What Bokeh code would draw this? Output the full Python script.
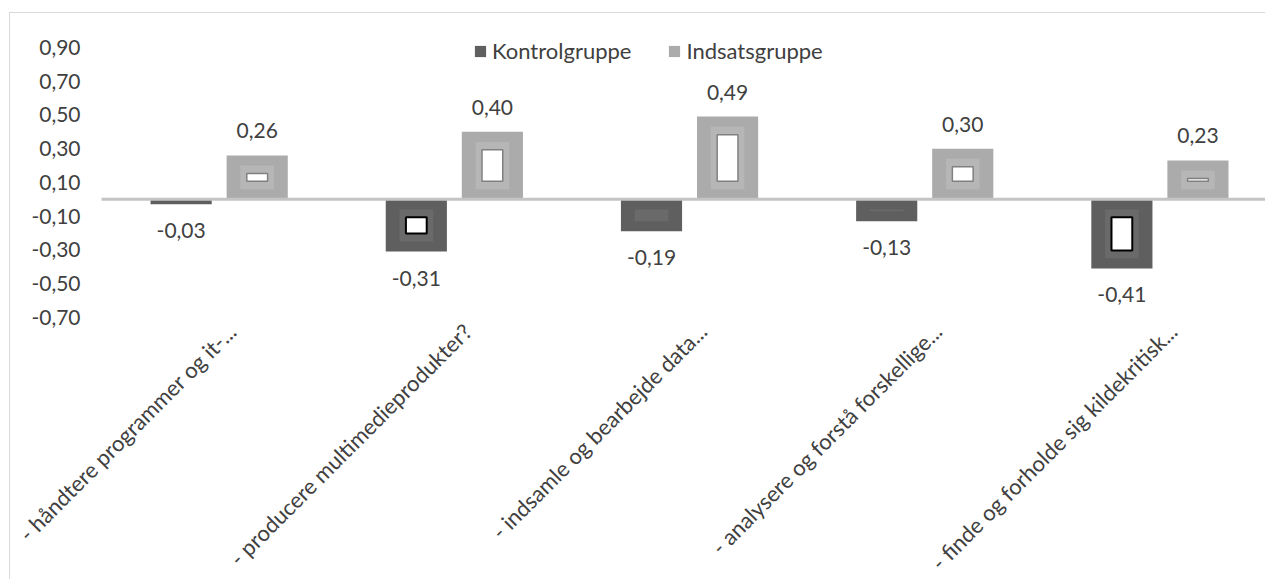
import math
from bokeh.plotting import figure
from bokeh.models import (ColumnDataSource, Range1d, Legend, LegendItem, LabelSet)
from bokeh.core.properties import value
from bokeh.embed import file_html
from bokeh.resources import INLINE

categories = [
    "- håndtere programmer og it-...",
    "- producere multimedieprodukter?",
    "- indsamle og bearbejde data...",
    "- analysere og forstå forskellige...",
    "- finde og forholde sig kildekritisk...",
]
kontrol = [-0.03, -0.31, -0.19, -0.13, -0.41]
indsats = [0.26, 0.40, 0.49, 0.30, 0.23]
y_ticks = [-0.7, -0.5, -0.3, -0.1, 0.1, 0.3, 0.5, 0.7, 0.9]
series_names = ["Kontrolgruppe", "Indsatsgruppe"]

FONT = "Lato"
TXT = "#404040"
C_K = "#5f5f5f"
C_I = "#ababab"

n = len(categories)
centers = [i + 0.5 for i in range(n)]
off = 0.1617
bw = 0.26

# layout geometry (pixels -> data units)
PX_PER_CAT = 235.0
PX_PER_UNIT = 168.75
LEFT_PAD_PX = 91          # space for value labels left of the first category
AXIS_MIN = -0.70          # value axis bottom (category labels hang below it)
Y_MAX = 1.0
Y_MIN = AXIS_MIN - 263 / PX_PER_UNIT
X_MIN = -LEFT_PAD_PX / PX_PER_CAT
X_MAX = 1164 / PX_PER_CAT
TICK_LAB_X = -21 / PX_PER_CAT

def fmt(v):
    return f"{v:.2f}".replace(".", ",")

def bevel(xs, vals):
    # inner "picture effect" rectangles derived from bar values
    m = 0.107
    hx, hy, hh, ix, iy, ih = [], [], [], [], [], []
    for x, v in zip(xs, vals):
        s = 1 if v >= 0 else -1
        a = abs(v)
        if a - 2 * 0.06 > 0:
            hx.append(x); hy.append(s * a / 2); hh.append(a - 2 * 0.06)
        if a - 2 * m > 0:
            ix.append(x); iy.append(s * a / 2); ih.append(a - 2 * m)
    return (dict(x=hx, y=hy, h=hh), dict(x=ix, y=iy, h=ih))

xk = [c - off for c in centers]
xi = [c + off for c in centers]

src_k = ColumnDataSource(dict(x=xk, top=kontrol, lab=[fmt(v) for v in kontrol]))
src_i = ColumnDataSource(dict(x=xi, top=indsats, lab=[fmt(v) for v in indsats]))
src_c = ColumnDataSource(dict(x=centers, y=[AXIS_MIN] * n, lab=categories))
src_t = ColumnDataSource(dict(x=[TICK_LAB_X] * len(y_ticks), y=y_ticks,
                              lab=[fmt(t) for t in y_ticks]))

p = figure(width=1256, height=567, output_backend="svg", toolbar_location=None,
           x_range=Range1d(X_MIN, X_MAX), y_range=Range1d(Y_MIN, Y_MAX),
           min_border_left=0, min_border_top=17, min_border_right=0, min_border_bottom=0)
p.styles = {"margin-left": "9px", "margin-top": "12px",
            "border-left": "1px solid #d9d9d9", "border-top": "1px solid #d9d9d9"}
p.outline_line_color = None
p.xgrid.visible = False
p.ygrid.visible = False
p.xaxis.visible = False
p.yaxis.visible = False
p.background_fill_color = "white"
p.border_fill_color = "white"

rk = p.vbar(x="x", top="top", bottom=0, width=bw, source=src_k, fill_color=C_K, line_color=None)
ri = p.vbar(x="x", top="top", bottom=0, width=bw, source=src_i, fill_color=C_I, line_color=None)

hk, ik = bevel(xk, kontrol)
hi, ii = bevel(xi, indsats)
p.rect(x="x", y="y", height="h", width=bw * 0.55, source=ColumnDataSource(hk),
       fill_color="#6a6a6a", line_color=None)
p.rect(x="x", y="y", height="h", width=bw * 0.55, source=ColumnDataSource(hi),
       fill_color="#b6b6b6", line_color=None)
p.rect(x="x", y="y", height="h", width=bw * 0.34, source=ColumnDataSource(ik),
       fill_color="white", line_color="black", line_width=2)
p.rect(x="x", y="y", height="h", width=bw * 0.34, source=ColumnDataSource(ii),
       fill_color="white", line_color="#808080", line_width=1.5)

# zero line from the first category edge to the right
p.segment(x0=[0], y0=[0], x1=[X_MAX], y1=[0], line_color="#c4c4c4", line_width=3)

p.add_layout(LabelSet(x="x", y="top", text="lab", source=src_i, text_align="center",
                      text_baseline="bottom", y_offset=17, text_font=value(FONT),
                      text_font_size="21px", text_color=TXT))
p.add_layout(LabelSet(x="x", y="top", text="lab", source=src_k, text_align="center",
                      text_baseline="top", y_offset=-19, text_font=value(FONT),
                      text_font_size="21px", text_color=TXT))

# value axis labels
p.add_layout(LabelSet(x="x", y="y", text="lab", source=src_t, text_align="right",
                      text_baseline="middle", text_font=value(FONT),
                      text_font_size="21px", text_color=TXT))

# category labels, rotated 45 degrees, hanging below the value axis
p.add_layout(LabelSet(x="x", y="y", text="lab", source=src_c, angle=math.pi / 4,
                      text_align="right", text_baseline="middle", x_offset=13, y_offset=-10,
                      text_font=value(FONT), text_font_size="22px", text_color=TXT))

legend = Legend(items=[LegendItem(label=series_names[0], renderers=[rk]),
                       LegendItem(label=series_names[1], renderers=[ri])],
                orientation="horizontal", location=(463, 516), padding=0, margin=0,
                spacing=36, label_standoff=5, glyph_width=14, glyph_height=14,
                label_height=14, border_line_color=None, background_fill_alpha=0,
                label_text_font=FONT, label_text_font_size="22px", label_text_color=TXT)
p.add_layout(legend)

open("out.html", "w").write(file_html(p, INLINE))
